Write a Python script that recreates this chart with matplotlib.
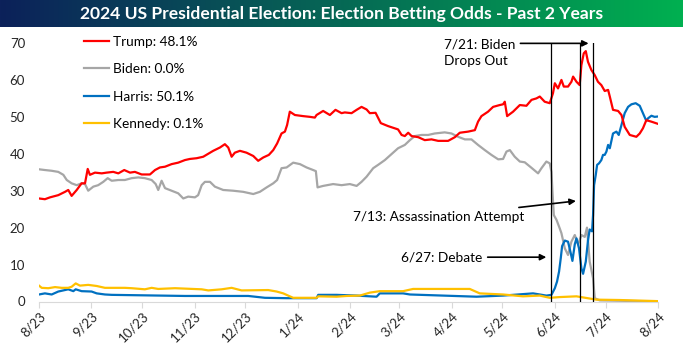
import numpy as np
import matplotlib
matplotlib.use("Agg")
import matplotlib.pyplot as plt

plt.rcParams['font.family'] = ['Lato', 'DejaVu Sans']

# x positions are days since the first axis tick ("8/23")
tick_days = [0, 31, 61, 92, 122, 153, 184, 213, 244, 274, 305, 335, 366]
tick_labels = ["8/23", "9/23", "10/23", "11/23", "12/23", "1/24", "2/24",
               "3/24", "4/24", "5/24", "6/24", "7/24", "8/24"]

trump_days = [0, 3.5, 6.5, 11.4, 15.4, 17.3, 19.3, 22.3, 25.2, 27.2, 28.8, 30.1, 33.1, 37.1, 40.0,
              43.9, 46.9, 50.4, 53.8, 56.7, 60.7, 65.6, 68.6, 71.5, 74.5, 78.4, 82.3, 86.3, 89.2,
              93.2, 97.1, 103.0, 107.0, 109.9, 111.9, 113.9, 115.8, 118.8, 122.7, 126.7, 129.6,
              132.6, 135.9, 138.5, 140.8, 143.4, 145.4, 146.7, 148.3, 151.3, 156.2, 160.2, 163.1,
              164.1, 168.0, 172.0, 175.3, 178.9, 180.8, 184.8, 187.8, 190.7, 193.7, 195.6, 199.0,
              202.1, 206.4, 212.3, 214.4, 216.3, 218.3, 220.3, 224.2, 228.1, 232.1, 236.0, 241.9,
              245.9, 248.8, 253.7, 257.7, 259.6, 261.6, 265.5, 268.5, 272.4, 274.4, 275.4, 276.8,
              280.3, 284.3, 288.2, 291.2, 294.1, 296.1, 299.0, 302.0, 303.9, 305.0, 306.9, 308.9,
              310.3, 312.8, 314.8, 315.8, 317.8, 319.7, 320.7, 322.1, 323.3, 324.6, 326.6, 328.6,
              330.5, 332.5, 334.5, 336.5, 337.5, 339.4, 342.4, 344.4, 346.3, 349.3, 353.2, 355.2,
              357.1, 359.1, 362.1, 366]
trump_vals = [27.9, 27.7, 28.2, 28.8, 29.7, 30.2, 28.6, 30.2, 32.0, 32.0, 35.9, 34.3, 34.9, 34.7, 34.9,
              35.1, 34.7, 35.6, 34.9, 35.1, 34.4, 34.4, 35.6, 36.3, 36.5, 37.2, 37.6, 38.3, 38.6,
              38.8, 39.2, 40.8, 41.7, 42.6, 41.7, 39.2, 40.3, 40.8, 40.3, 39.4, 38.1,
              39.0, 39.7, 41.0, 42.8, 45.5, 46.0, 47.8, 51.4, 50.5, 50.2, 50.0, 49.8,
              50.5, 51.6, 50.5, 51.9, 51.0, 51.2, 51.0, 51.9, 52.7, 52.0, 51.0, 51.1,
              48.3, 47.5, 46.6, 45.1, 44.8, 45.7, 44.8, 44.5, 43.7, 43.9, 43.5, 43.5,
              44.5, 45.7, 46.0, 46.4, 48.7, 50.2, 51.4, 52.7, 53.2, 53.4, 54.1, 50.2,
              51.4, 53.2, 53.0, 54.6, 55.0, 55.5, 54.1, 53.7, 56.4, 59.1, 57.7, 60.0,
              58.2, 58.2, 59.5, 60.9, 59.5, 58.6, 64.0, 67.2, 67.8, 64.9, 62.7, 61.3,
              59.5, 58.6, 57.0, 57.3, 55.5, 51.9, 51.6, 50.5, 47.3, 45.1, 44.6, 45.5,
              46.9, 49.1, 48.7, 48.1]

biden_days = [0, 3.5, 7.5, 11.4, 14.4, 16.4, 19.3, 22.3, 25.2, 27.2, 29.1, 32.1, 35.0, 38.0, 40.6,
              43.0, 46.9, 50.8, 54.8, 58.7, 62.6, 66.6, 69.0, 70.5, 72.5, 74.5, 78.4, 82.3, 85.3,
              88.2, 92.2, 94.1, 96.2, 98.1, 101.1, 104.0, 108.9, 114.8, 120.7, 126.7, 130.6,
              134.6, 138.5, 140.8, 143.4, 146.4, 150.3, 154.3, 158.2, 162.1, 163.7, 164.7, 168.0,
              173.9, 178.9, 183.8, 187.8, 190.7, 193.7, 197.6, 200.5, 204.5, 208.4, 212.3, 216.3,
              219.3, 222.2, 226.2, 230.1, 234.0, 239.9, 243.9, 247.8, 251.8, 255.7, 259.6, 263.6,
              267.5, 271.5, 274.4, 276.4, 278.4, 281.3, 284.3, 287.2, 291.2, 295.1, 297.1, 300.0,
              302.0, 303.0, 303.6, 304.4, 306.0, 307.9, 308.9, 310.9, 312.8, 314.8, 316.8, 318.8,
              320.7, 322.7, 324.0, 325.6, 327.6, 328.6, 331.5, 366]
biden_vals = [35.8, 35.6, 35.4, 35.1, 34.3, 32.9, 32.0, 31.5, 32.0, 31.8, 30.0, 31.1, 31.5, 32.4, 33.4,
              32.7, 32.9, 32.9, 33.4, 33.6, 33.4, 32.9, 31.8, 30.2, 32.7, 30.7, 30.0, 29.3, 27.9,
              28.4, 28.2, 28.8, 31.5, 32.4, 32.4, 31.1, 30.2, 30.0, 29.7, 29.1, 29.7,
              30.9, 32.0, 32.9, 36.1, 36.3, 37.6, 37.2, 36.3, 35.6, 35.3, 30.9, 31.3,
              31.8, 31.5, 31.8, 31.3, 32.4, 33.8, 36.1, 37.0, 38.3, 39.9, 41.5, 42.4,
              43.7, 44.8, 45.1, 45.1, 45.5, 45.8, 45.5, 44.6, 43.9, 43.9, 42.4, 41.0,
              39.7, 38.5, 38.6, 40.6, 41.0, 39.2, 37.9, 37.7, 36.2, 34.7, 36.1, 37.9,
              37.4, 35.1, 29.7, 23.4, 22.1, 19.8, 18.5, 14.4, 12.6, 16.2, 18.0, 15.5,
              18.0, 17.5, 20.0, 10.8, 6.3, 0.9, 0.3, 0.0]

harris_days = [0, 3.5, 7.5, 11.4, 17.3, 20.3, 21.7, 25.2, 31.1, 34.1, 39.0, 43.0, 86.3, 123.7,
               127.7, 133.6, 146.4, 164.1, 165.1, 175.9, 187.8, 199.6, 201.5, 215.3, 219.3, 238.9,
               258.7, 274.4, 292.1, 296.1, 300.0, 303.0, 305.0, 306.3, 307.5, 308.5, 309.3, 310.9,
               312.8, 314.2, 315.4, 316.8, 317.8, 319.3, 320.7, 321.7, 323.3, 324.6, 325.6, 327.0,
               327.6, 328.2, 329.2, 330.0, 331.1, 332.5, 333.5, 334.5, 335.5, 336.5, 337.5, 339.4,
               341.4, 342.8, 344.4, 346.3, 348.3, 350.3, 352.8, 355.2, 357.1, 359.1, 360.1, 362.1,
               364.0, 366]
harris_vals = [1.9, 2.2, 1.9, 2.7, 3.3, 2.8, 3.3, 2.8, 2.7, 2.2, 1.9, 1.8, 1.5, 1.5,
               1.3, 1.0, 0.9, 0.9, 1.8, 1.8, 1.6, 1.3, 2.2, 2.2, 1.9, 1.6,
               1.3, 1.6, 2.2, 1.9, 1.6, 1.8, 3.6, 5.4, 8.1, 11.7, 15.0, 16.5,
               16.2, 13.5, 11.0, 15.5, 17.1, 14.4, 9.0, 7.5, 10.8, 16.5, 19.5, 19.0,
               23.4, 31.5, 34.3, 37.0, 37.4, 38.3, 39.7, 39.7, 40.6, 42.4, 41.5, 45.5,
               46.0, 45.1, 47.8, 51.0, 52.7, 53.4, 53.7, 53.0, 51.0, 48.9, 49.6, 50.3,
               50.0, 50.1]

kennedy_days = [0, 1.6, 5.5, 9.5, 13.4, 17.3, 19.3, 21.7, 24.2, 29.1, 34.1, 39.0, 44.9, 50.8, 54.8,
                62.6, 66.6, 70.5, 80.4, 96.2, 100.1, 108.0, 113.9, 119.8, 135.5, 140.5, 144.4,
                148.3, 150.3, 164.1, 165.1, 175.9, 181.9, 189.7, 195.6, 201.5, 215.3, 221.2,
                254.7, 260.6, 274.4, 286.2, 296.1, 302.0, 307.9, 317.8, 329.6, 343.4, 366]
kennedy_vals = [4.3, 3.7, 3.6, 3.9, 3.7, 3.7, 4.0, 4.9, 4.3, 4.5, 4.2, 3.7, 3.7, 3.7, 3.6,
                3.3, 3.7, 3.4, 3.6, 3.3, 3.0, 3.3, 3.7, 3.0, 3.1, 2.7, 2.2,
                1.4, 1.0, 1.0, 1.4, 1.3, 1.5, 1.6, 2.4, 2.8, 2.8, 3.4,
                3.4, 2.2, 1.9, 1.4, 1.6, 1.0, 1.2, 1.4, 0.5, 0.4, 0.1]

labels = ["Trump: 48.1%", "Biden: 0.0%", "Harris: 50.1%", "Kennedy: 0.1%"]
colors = ["#FF0000", "#A6A6A6", "#0070C0", "#FFC000"]

event_days = [302.6, 320.1, 327.6]
event_texts = ["6/27: Debate", "7/13: Assassination Attempt", "7/21: Biden\nDrops Out"]

W, H = 683, 351
FS = 9.8
fig = plt.figure(figsize=(W / 100, H / 100), dpi=100)

# title banner with gradient
tax = fig.add_axes([0, 1 - 27 / H, 1, 27 / H])
grad = np.linspace(0, 1, 256)
c0 = np.array([12, 33, 90]) / 255
c1 = np.array([0, 176, 80]) / 255
img = (c0[None, :] * (1 - grad[:, None]) + c1[None, :] * grad[:, None])[None, :, :]
tax.imshow(img, aspect='auto', extent=[0, 1, 0, 1])
tax.set_axis_off()
tax.text(0.5, 0.5, "2024 US Presidential Election: Election Betting Odds - Past 2 Years",
         color="white", fontsize=12.6, fontweight="bold", ha="center", va="center")

ax = fig.add_axes([39 / W, 1 - 301.5 / H, (658 - 39) / W, (301.5 - 43) / H])
series = [(trump_days, trump_vals), (biden_days, biden_vals),
          (harris_days, harris_vals), (kennedy_days, kennedy_vals)]
handles = []
zorders = [5, 2, 3, 4]
for (d, v), lab, col, z in zip(series, labels, colors, zorders):
    h, = ax.plot(d, v, color=col, lw=1.6, label=lab, zorder=z, solid_joinstyle='round')
    handles.append(h)

ax.set_xlim(0, 366)
ax.set_ylim(0, 70)
ax.set_yticks(range(0, 71, 10))
ax.set_xticks(tick_days)
ax.set_xticklabels(tick_labels, rotation=45, ha='right', va='top', rotation_mode='anchor')
for s in ['top', 'right', 'left']:
    ax.spines[s].set_visible(False)
ax.spines['bottom'].set_color('#D9D9D9')
ax.tick_params(axis='y', length=0, labelsize=9.5, pad=10, colors='#262626')
ax.tick_params(axis='x', length=4, color='#D9D9D9', labelsize=9.5, pad=2, labelcolor='#262626')

# events
for ed in event_days:
    ax.axvline(ed, color='black', lw=0.9, zorder=6)

arrow = dict(arrowstyle='-|>', color='black', lw=1.2, mutation_scale=9)
ax.annotate(event_texts[0], xy=(event_days[0] - 1, 12.0), xytext=(262, 12.0),
            fontsize=FS, ha='right', va='center', arrowprops=arrow)
ax.annotate(event_texts[1], xy=(event_days[1] - 1, 27.3), xytext=(287, 23.0),
            fontsize=FS, ha='right', va='center', arrowprops=arrow)
ax.text(239.4, 67.3, event_texts[2], fontsize=FS, ha='left', va='center', linespacing=1.4)
ax.annotate("", xy=(event_days[2] - 1, 69.9), xytext=(283, 69.9),
            arrowprops=arrow, annotation_clip=False)

leg = fig.legend(handles=handles, loc='upper left', bbox_to_anchor=(84 / W, 1 - 35.5 / H),
                 frameon=False, fontsize=FS, handlelength=1.85, handletextpad=0.3,
                 labelspacing=1.14, borderpad=0, borderaxespad=0)

fig.savefig("out.png", dpi=100)
